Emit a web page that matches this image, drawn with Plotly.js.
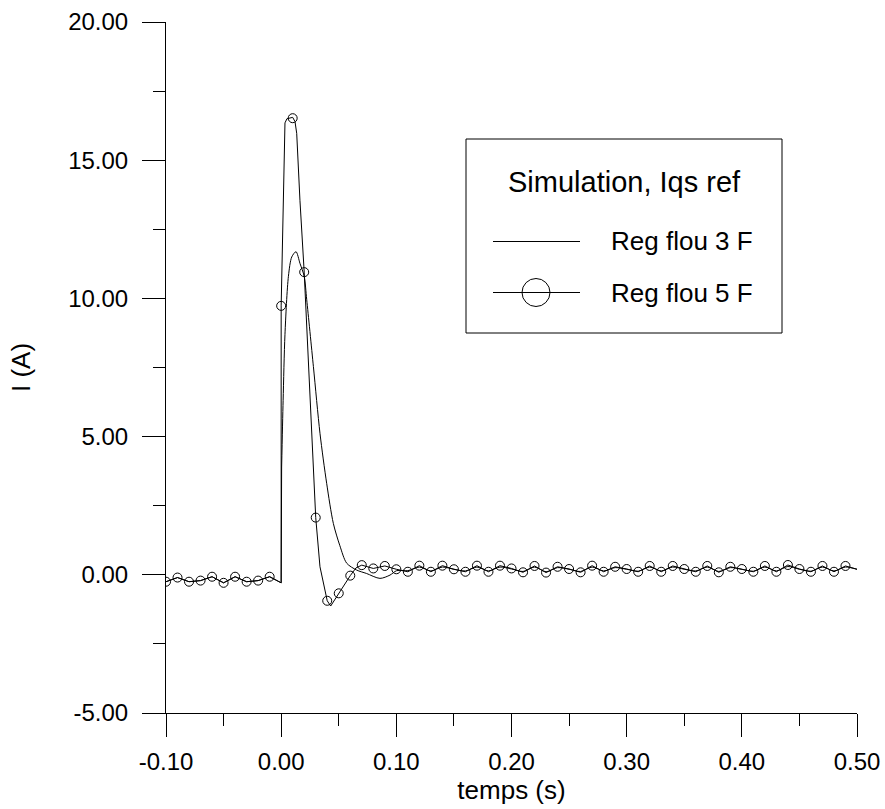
<!DOCTYPE html>
<html>
<head>
<meta charset="utf-8">
<script src="https://cdn.plot.ly/plotly-3.0.1.min.js"></script>
<style>html,body{margin:0;padding:0;background:#fff;}#chart{width:885px;height:809px;}</style>
</head>
<body>
<div id="chart"></div>
<script>
// ---- Data ----
// Reg flou 3 F : plain line
var t3 = [-0.10,-0.09,-0.08,-0.07,-0.06,-0.05,-0.04,-0.03,-0.02,-0.01,
  0.000,0.0004,0.0017,0.0033,0.0063,0.0092,0.0129,0.0163,0.020,0.0222,0.028,0.0337,0.0395,0.0453,0.051,0.0569,0.0656,0.074,0.0858,0.0945,0.1003,
  0.11,0.12,0.13,0.14,0.15,0.16,0.17,0.18,0.19,0.20,0.21,0.22,0.23,0.24,0.25,0.26,0.27,0.28,0.29,0.30,
  0.31,0.32,0.33,0.34,0.35,0.36,0.37,0.38,0.39,0.40,0.41,0.42,0.43,0.44,0.45,0.46,0.47,0.48,0.49,0.50];
var i3 = [-0.25,-0.10,-0.25,-0.21,-0.07,-0.29,-0.07,-0.25,-0.21,-0.07,
  -0.29,3.90,6.30,8.70,10.80,11.50,11.69,11.27,10.80,9.95,7.53,5.12,3.31,1.86,1.05,0.42,0.17,0.05,-0.13,-0.01,0.15,
  0.15,0.28,0.14,0.28,0.20,0.14,0.28,0.14,0.28,0.21,0.12,0.28,0.11,0.26,0.20,0.12,0.28,0.14,0.26,0.20,
  0.13,0.28,0.14,0.28,0.20,0.14,0.28,0.12,0.26,0.20,0.13,0.28,0.14,0.30,0.20,0.13,0.28,0.14,0.28,0.20];

// Reg flou 5 F : line
var t5 = [-0.10,-0.09,-0.08,-0.07,-0.06,-0.05,-0.04,-0.03,-0.02,-0.01,
  0.000,0.000,0.0033,0.005,0.010,0.012,0.0135,0.0163,0.020,0.0236,0.027,0.030,0.0337,0.040,0.043,0.050,0.060,0.065,
  0.07,0.08,0.09,0.10,0.11,0.12,0.13,0.14,0.15,0.16,0.17,0.18,0.19,0.20,0.21,0.22,0.23,0.24,0.25,0.26,0.27,0.28,0.29,0.30,
  0.31,0.32,0.33,0.34,0.35,0.36,0.37,0.38,0.39,0.40,0.41,0.42,0.43,0.44,0.45,0.46,0.47,0.48,0.49,0.50];
var i5 = [-0.25,-0.10,-0.25,-0.21,-0.07,-0.29,-0.07,-0.25,-0.21,-0.07,
  -0.29,9.73,16.35,16.50,16.55,16.40,15.97,13.55,10.95,7.53,4.52,2.07,0.29,-0.94,-1.13,-0.67,-0.03,0.25,
  0.35,0.23,0.32,0.20,0.11,0.33,0.11,0.33,0.20,0.11,0.33,0.11,0.33,0.23,0.09,0.32,0.08,0.29,0.21,0.09,0.33,0.11,0.29,0.21,
  0.11,0.32,0.11,0.32,0.21,0.11,0.32,0.09,0.29,0.21,0.11,0.32,0.11,0.355,0.21,0.11,0.32,0.11,0.32,0.20];

// Reg flou 5 F : circle markers (every 0.01 s)
var markT = [-0.10,-0.09,-0.08,-0.07,-0.06,-0.05,-0.04,-0.03,-0.02,-0.01,
  0.00,0.01,0.02,0.03,0.04,0.05,0.06,0.07,0.08,0.09,0.10,0.11,0.12,0.13,0.14,0.15,0.16,0.17,0.18,0.19,
  0.20,0.21,0.22,0.23,0.24,0.25,0.26,0.27,0.28,0.29,0.30,0.31,0.32,0.33,0.34,0.35,0.36,0.37,0.38,0.39,
  0.40,0.41,0.42,0.43,0.44,0.45,0.46,0.47,0.48,0.49];
var markI = [-0.25,-0.10,-0.25,-0.21,-0.07,-0.29,-0.07,-0.25,-0.21,-0.07,
  9.73,16.52,10.95,2.07,-0.94,-0.67,-0.03,0.35,0.23,0.32,0.20,0.11,0.33,0.11,0.33,0.20,0.11,0.33,0.11,0.33,
  0.23,0.09,0.32,0.08,0.29,0.21,0.09,0.33,0.11,0.29,0.21,0.11,0.32,0.11,0.32,0.21,0.11,0.32,0.09,0.29,
  0.21,0.11,0.32,0.11,0.355,0.21,0.11,0.32,0.11,0.32];

// Tick labels
var xTickVals = [-0.1, 0.0, 0.1, 0.2, 0.3, 0.4, 0.5];
var xTickText = ['-0.10', '0.00', '0.10', '0.20', '0.30', '0.40', '0.50'];
var yTickVals = [-5, 0, 5, 10, 15, 20];
var yTickText = ['-5.00', '0.00', '5.00', '10.00', '15.00', '20.00'];

var seriesNames = ['Reg flou 3 F', 'Reg flou 5 F'];
var legendTitle = 'Simulation, Iqs ref';
var xTitle = 'temps (s)';
var yTitle = 'I (A)';

// ---- Layout helpers ----
var W = 885, H = 809, L = 166, R = 28, T = 22, B = 96;
var PW = W - L - R, PH = H - T - B;
function px(x) { return (x - L) / PW; }
function py(y) { return (H - B - y) / PH; }

var FONT = 'Liberation Sans, Arial, Helvetica, sans-serif';

// 3 F: straight segments up to the top of the step at t = 0, smooth curve after it
var split3 = t3.indexOf(0.0004);

var traces = [
  { x: t3.slice(0, split3 + 1), y: i3.slice(0, split3 + 1), mode: 'lines', name: seriesNames[0], line: { color: '#000', width: 1 }, hoverinfo: 'skip' },
  { x: t3.slice(split3), y: i3.slice(split3), mode: 'lines', name: seriesNames[0], line: { color: '#000', width: 1, shape: 'spline', smoothing: 0.8 }, hoverinfo: 'skip' },
  { x: t5, y: i5, mode: 'lines', name: seriesNames[1], line: { color: '#000', width: 1 }, hoverinfo: 'skip' },
  { x: markT, y: markI, mode: 'markers', name: seriesNames[1], marker: { symbol: 'circle-open', size: 9, color: '#000', line: { width: 1, color: '#000' } }, hoverinfo: 'skip' }
];

var layout = {
  width: W, height: H,
  margin: { l: L, r: R, t: T, b: B, pad: 0 },
  paper_bgcolor: '#fff', plot_bgcolor: '#fff',
  showlegend: false,
  font: { family: FONT, color: '#000' },
  xaxis: {
    range: [-0.1, 0.5], tickmode: 'array', tickvals: xTickVals, ticktext: xTickText,
    ticks: 'outside', ticklen: 23, tickwidth: 1, tickcolor: '#000',
    minor: { dtick: 0.05, tick0: -0.1, ticks: 'outside', ticklen: 12, tickwidth: 1, tickcolor: '#000', showgrid: false },
    showline: true, linecolor: '#000', linewidth: 1, mirror: false,
    showgrid: false, zeroline: false, automargin: false,
    tickfont: { family: FONT, size: 24, color: '#000' },
    ticklabelstandoff: 4,
    title: { text: xTitle, font: { family: FONT, size: 26, color: '#000' }, standoff: 6 }
  },
  yaxis: {
    range: [-5, 20], tickmode: 'array', tickvals: yTickVals, ticktext: yTickText,
    ticks: 'outside', ticklen: 23, tickwidth: 1, tickcolor: '#000',
    minor: { dtick: 2.5, tick0: -5, ticks: 'outside', ticklen: 12, tickwidth: 1, tickcolor: '#000', showgrid: false },
    showline: true, linecolor: '#000', linewidth: 1, mirror: false,
    showgrid: false, zeroline: false, automargin: false,
    tickfont: { family: FONT, size: 24, color: '#000' },
    ticklabelstandoff: 9,
    title: { text: yTitle, font: { family: FONT, size: 26, color: '#000' }, standoff: 30 }
  },
  shapes: [
    { type: 'rect', xref: 'paper', yref: 'paper', x0: px(466), x1: px(782), y0: py(333), y1: py(139), line: { color: '#000', width: 1 }, fillcolor: 'rgba(0,0,0,0)' },
    { type: 'line', xref: 'paper', yref: 'paper', x0: px(493), x1: px(580), y0: py(241.5), y1: py(241.5), line: { color: '#000', width: 1 } },
    { type: 'line', xref: 'paper', yref: 'paper', x0: px(493), x1: px(580), y0: py(292.5), y1: py(292.5), line: { color: '#000', width: 1 } },
    { type: 'circle', xref: 'paper', yref: 'paper', x0: px(522), x1: px(550), y0: py(306.5), y1: py(278.5), line: { color: '#000', width: 1 }, fillcolor: 'rgba(0,0,0,0)' }
  ],
  annotations: [
    { xref: 'paper', yref: 'paper', x: px(624), y: py(182), xanchor: 'center', yanchor: 'middle', showarrow: false, text: legendTitle, font: { family: FONT, size: 29, color: '#000' } },
    { xref: 'paper', yref: 'paper', x: px(609), y: py(241.5), xanchor: 'left', yanchor: 'middle', showarrow: false, text: seriesNames[0], font: { family: FONT, size: 26, color: '#000' } },
    { xref: 'paper', yref: 'paper', x: px(609), y: py(292.5), xanchor: 'left', yanchor: 'middle', showarrow: false, text: seriesNames[1], font: { family: FONT, size: 26, color: '#000' } }
  ]
};

Plotly.newPlot('chart', traces, layout, { staticPlot: true, displayModeBar: false });
</script>
</body>
</html>
